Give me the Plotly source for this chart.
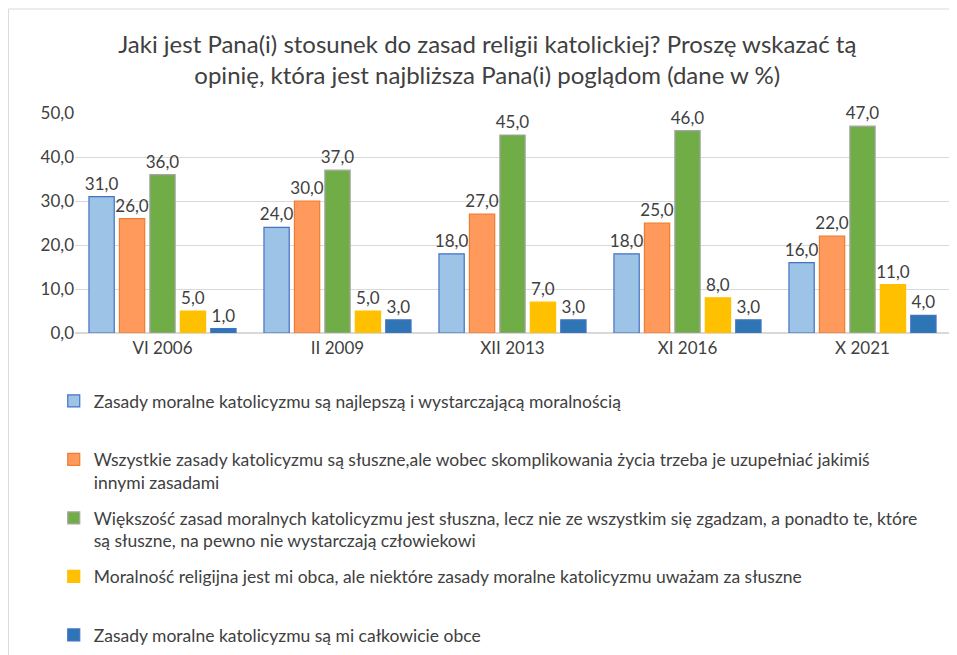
import plotly.graph_objects as go

categories = ["VI 2006", "II 2009", "XII 2013", "XI 2016", "X 2021"]
series_names = [
    "Zasady moralne katolicyzmu są najlepszą i wystarczającą moralnością<br> ",
    "Wszystkie zasady katolicyzmu są słuszne,ale wobec skomplikowania życia trzeba je uzupełniać jakimiś<br>innymi zasadami",
    "Większość zasad moralnych katolicyzmu jest słuszna, lecz nie ze wszystkim się zgadzam, a ponadto te, które<br>są słuszne, na pewno nie wystarczają człowiekowi",
    "Moralność religijna jest mi obca, ale niektóre zasady moralne katolicyzmu uważam za słuszne<br> ",
    "Zasady moralne katolicyzmu są mi całkowicie obce",
]
s1 = [31.0, 24.0, 18.0, 18.0, 16.0]
s2 = [26.0, 30.0, 27.0, 25.0, 22.0]
s3 = [36.0, 37.0, 45.0, 46.0, 47.0]
s4 = [5.0, 5.0, 7.0, 8.0, 11.0]
s5 = [1.0, 3.0, 3.0, 3.0, 4.0]
values = [s1, s2, s3, s4, s5]

fills = ["#9DC3E6", "#FF9A5C", "#70AD47", "#FFC000", "#2E75B6"]
borders = ["#4472C4", "#ED7D31", "#A5A5A5", "#FFC000", "#4472C4"]

FONT = "Lato"
TXT = "#404040"

fig = go.Figure()
for i in range(5):
    fig.add_trace(go.Bar(
        x=categories, y=values[i], name=series_names[i],
        marker=dict(color=fills[i], line=dict(color=borders[i], width=1.2)),
        texttemplate="%{y:.1f}", textposition="outside", constraintext="none",
        textfont=dict(family=FONT, size=17, color=TXT),
        cliponaxis=False, legendgroup=f"g{i}",
    ))

fig.update_layout(
    width=949, height=647,
    margin=dict(l=67, r=7, t=105, b=322, autoexpand=False),
    paper_bgcolor="white", plot_bgcolor="white",
    separators=", ",
    barmode="group", bargap=0.13, bargroupgap=0.17,
    title=dict(
        text="Jaki jest Pana(i) stosunek do zasad religii katolickiej? Proszę wskazać tą<br>opinię, która jest najbliższa Pana(i) poglądom (dane w %)",
        x=0.505, xanchor="center", xref="container", y=0.931, yanchor="top",
        font=dict(family=FONT, size=24, color=TXT),
    ),
    font=dict(family=FONT, color=TXT),
    showlegend=True,
    legend=dict(
        x=-0.0243, xanchor="left", y=-0.2274, yanchor="top",
        orientation="v", valign="top", tracegroupgap=10,
        font=dict(family=FONT, size=17.5, color=TXT),
        traceorder="grouped", itemwidth=30,
    ),
)
fig.update_yaxes(
    range=[0, 50], dtick=10, tickformat=".1f",
    showgrid=True, gridcolor="#D9D9D9", gridwidth=1,
    zeroline=True, zerolinecolor="#D9D9D9",
    tickfont=dict(family=FONT, size=17, color=TXT), ticks="", ticklen=0,
)
fig.update_xaxes(
    showline=True, linecolor="#D9D9D9",
    tickfont=dict(family=FONT, size=17, color=TXT), ticks="",
)
# chart frame (left and top edges)
fig.add_shape(type="line", xref="paper", yref="paper", x0=-0.0761, x1=-0.0761, y0=1.4727, y1=-1.6,
              line=dict(color="#D9D9D9", width=1))
fig.add_shape(type="line", xref="paper", yref="paper", x0=-0.0761, x1=1.1, y0=1.4727, y1=1.4727,
              line=dict(color="#D9D9D9", width=1))

fig.write_html("out.html")
